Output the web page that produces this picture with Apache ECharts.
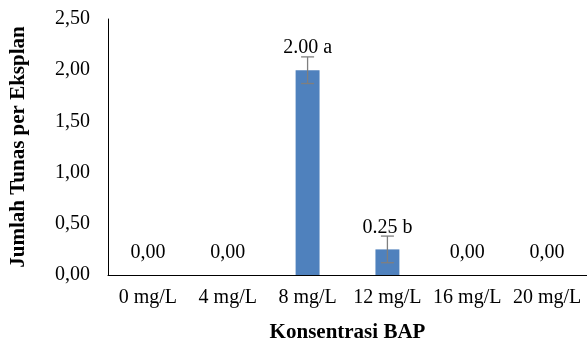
<!DOCTYPE html>
<html><head><meta charset="utf-8">
<script src="https://cdn.jsdelivr.net/npm/echarts@6/dist/echarts.min.js"></script>
<style>html,body{margin:0;padding:0;background:#fff}#c{width:587px;height:347px}</style>
</head><body><div id="c"></div>
<script>
const categories = ['0 mg/L','4 mg/L','8 mg/L','12 mg/L','16 mg/L','20 mg/L'];
const values = [0, 0, 2.00, 0.25, 0, 0];
const errors = [0, 0, 0.13, 0.13, 0, 0];
const barLabels = ['0,00','0,00','2.00 a','0.25 b','0,00','0,00'];
const yTicks = [0, 0.5, 1, 1.5, 2, 2.5];

const font = 'Liberation Serif';
const chart = echarts.init(document.getElementById('c'));
const errData = values.map((v,i)=>[i, v-errors[i], v+errors[i]]).filter((d,i)=>errors[i]>0);
chart.setOption({
  animation:false,
  grid:{left:108,right:0,top:19,bottom:72,containLabel:false,outerBoundsMode:'none'},
  xAxis:{type:'category',data:categories,
    axisLine:{lineStyle:{color:'#000',width:1}},axisTick:{show:false},
    axisLabel:{color:'#000',fontFamily:font,fontSize:20,margin:13,interval:0},
    name:'Konsentrasi BAP',nameLocation:'middle',nameGap:47,
    nameTextStyle:{color:'#000',fontFamily:font,fontSize:21,fontWeight:'bold'}},
  yAxis:{type:'value',min:yTicks[0],max:yTicks[yTicks.length-1],interval:0.5,
    axisLine:{show:true,lineStyle:{color:'#000',width:1}},axisTick:{show:false},
    splitLine:{show:false},
    axisLabel:{color:'#000',fontFamily:font,fontSize:20,margin:18,
      formatter:v=>v.toFixed(2).replace('.',',')},
    name:'Jumlah Tunas per Eksplan',nameLocation:'middle',nameGap:79,
    nameTextStyle:{color:'#000',fontFamily:font,fontSize:21,fontWeight:'bold'}},
  series:[
    {type:'bar',data:values,barWidth:'30%',itemStyle:{color:'#4f81bd'},
     label:{show:true,position:'top',distance:12,color:'#000',fontFamily:font,fontSize:20,
       formatter:p=>barLabels[p.dataIndex]}},
    {type:'custom',data:errData,z:5,
     renderItem:(params,api)=>{
       const x=api.value(0), lo=api.coord([x,api.value(1)]), hi=api.coord([x,api.value(2)]);
       const w=6.5;
       const st={stroke:'#7f7f7f',lineWidth:1.3};
       return {type:'group',children:[
         {type:'line',shape:{x1:lo[0],y1:lo[1],x2:hi[0],y2:hi[1]},style:st},
         {type:'line',shape:{x1:lo[0]-w,y1:lo[1],x2:lo[0]+w,y2:lo[1]},style:st},
         {type:'line',shape:{x1:hi[0]-w,y1:hi[1],x2:hi[0]+w,y2:hi[1]},style:st}
       ]};
     }}
  ]
});
</script></body></html>
